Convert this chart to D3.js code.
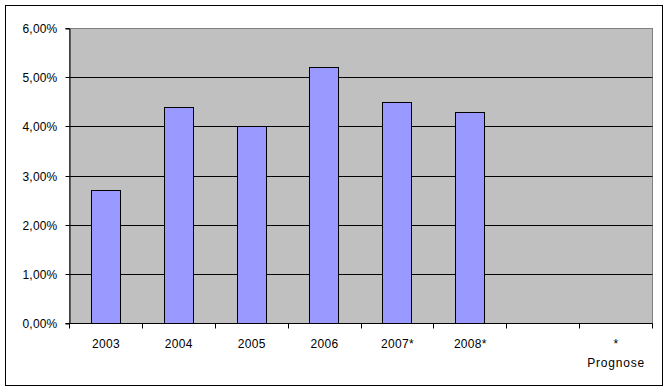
<!DOCTYPE html>
<html><head><meta charset="utf-8">
<script src="https://cdn.jsdelivr.net/npm/d3@7"></script>
<style>html,body{margin:0;padding:0;background:#fff}svg{display:block}text{font-family:"Liberation Sans",Arial,sans-serif;font-size:12px;fill:#000}</style>
</head><body>
<svg id="c" width="668" height="391"></svg>
<script>
const categories = ["2003","2004","2005","2006","2007*","2008*","","*\nPrognose"];
const values = [0.027,0.044,0.040,0.052,0.045,0.043,null,null];
const yTicks = [0,0.01,0.02,0.03,0.04,0.05,0.06];

const svg = d3.select("#c");
const L = 69.5, R = 652.5, T = 28.5, B = 323.5;
const snap = v => Math.round(v - 0.5) + 0.5;

// outer border
svg.append("rect").attr("x",5.5).attr("y",5.5).attr("width",657).attr("height",380)
  .attr("fill","#fff").attr("stroke","#000").attr("stroke-width",1);

const x = d3.scaleBand().domain(categories.map((c,i)=>i)).range([L,R]).paddingInner(0.6).paddingOuter(0.3);
const slot = d3.scaleBand().domain(categories.map((c,i)=>i)).range([L,R]).padding(0);
const y = d3.scaleLinear().domain([0,0.06]).range([B,T]);

// plot background
svg.append("rect").attr("x",L).attr("y",T).attr("width",R-L).attr("height",B-T)
  .attr("fill","#C0C0C0").attr("stroke","#808080").attr("stroke-width",1);

// gridlines
svg.append("g").selectAll("line").data(yTicks.filter(t=>t>0 && t<0.06)).join("line")
  .attr("x1",L).attr("x2",R).attr("y1",d=>snap(y(d))).attr("y2",d=>snap(y(d)))
  .attr("stroke","#000").attr("stroke-width",1);

// bars
svg.append("g").selectAll("rect").data(values.map((v,i)=>({v,i})).filter(d=>d.v!=null)).join("rect")
  .attr("x",d=>snap(x(d.i))).attr("width",d=>Math.round(x.bandwidth()))
  .attr("y",d=>snap(y(d.v))).attr("height",d=>snap(B)-snap(y(d.v)))
  .attr("fill","#9999FF").attr("stroke","#000").attr("stroke-width",1);

// y axis
const yAxis = d3.axisLeft(y).tickValues(yTicks).tickSize(4).tickPadding(6)
  .tickFormat(d=>d3.format(".2f")(d*100).replace(".",",")+"%");
const gy = svg.append("g").attr("transform",`translate(${L},0)`).call(yAxis);
gy.select(".domain").attr("stroke","#000");
gy.selectAll(".tick").attr("transform",d=>`translate(0,${snap(y(d))})`);
gy.selectAll(".tick line").attr("stroke","#000");
gy.selectAll(".tick text").style("font-family","'Liberation Sans',Arial,sans-serif").style("font-size","12px")
  .style("letter-spacing","0.2px").attr("fill","#000").attr("dy","0.35em").attr("x",-12);

// x axis line and ticks at slot boundaries
svg.append("line").attr("x1",L).attr("x2",R).attr("y1",B).attr("y2",B).attr("stroke","#000");
const bounds = categories.map((c,i)=>slot(i)).concat([R]);
svg.append("g").selectAll("line").data(bounds).join("line")
  .attr("x1",d=>snap(d)).attr("x2",d=>snap(d)).attr("y1",B).attr("y2",B+5).attr("stroke","#000");

// x labels
const gl = svg.append("g");
categories.forEach((c,i)=>{
  const cx = slot(i)+slot.bandwidth()/2;
  c.split("\n").forEach((line,j)=>{
    if(!line) return;
    gl.append("text").attr("x",cx).attr("y",B+24+j*19).attr("text-anchor","middle")
      .style("letter-spacing", j>0 ? "0.8px" : "0.3px").text(line);
  });
});
</script>
</body></html>
